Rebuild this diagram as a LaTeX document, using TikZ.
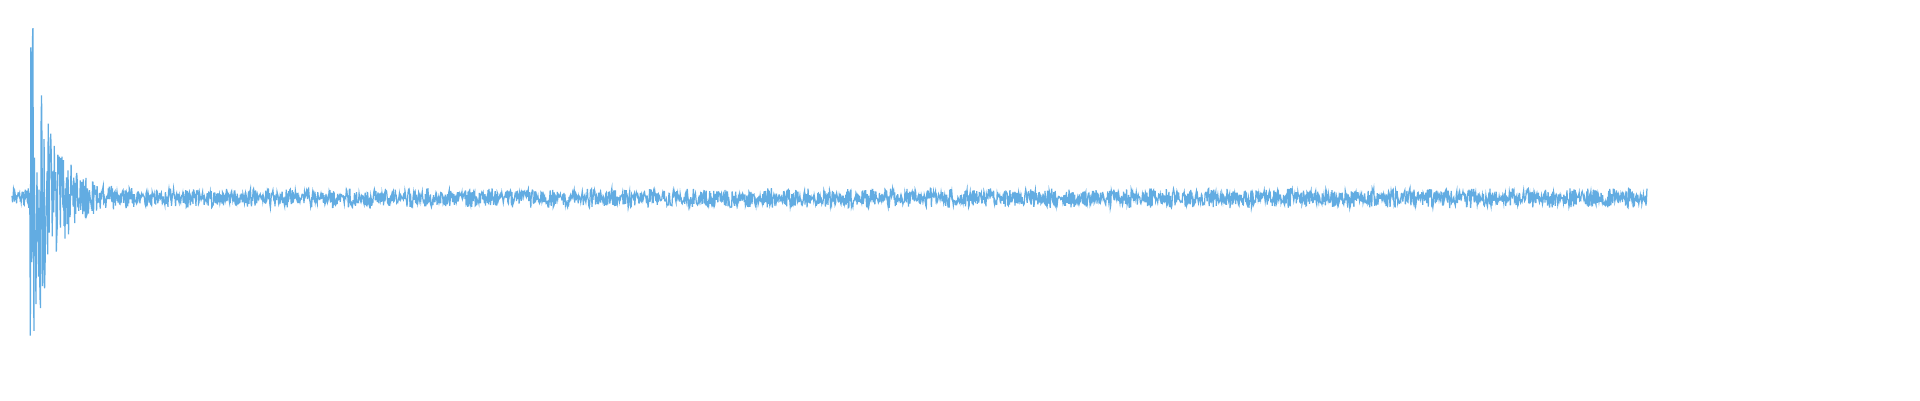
\documentclass[tikz,border=0pt]{standalone}
\usepackage{tikz}
\definecolor{wave}{RGB}{98,172,226}
\begin{document}
\begin{tikzpicture}
  \useasboundingbox (0,0) rectangle (19.2,4);
  \pgfmathsetseed{7}
  % waveform: steady ripple plus a decaying burst near the start
  \draw[wave, line width=0.35pt] plot[samples=3200, domain=0.12:16.47]
    (\x, {2.02 + rand*(0.05 + 0.05*abs(sin(\x*900)) + (\x>0.3)*1.6*exp(max(-9,-5*(\x-0.33))))});
\end{tikzpicture}
\end{document}
